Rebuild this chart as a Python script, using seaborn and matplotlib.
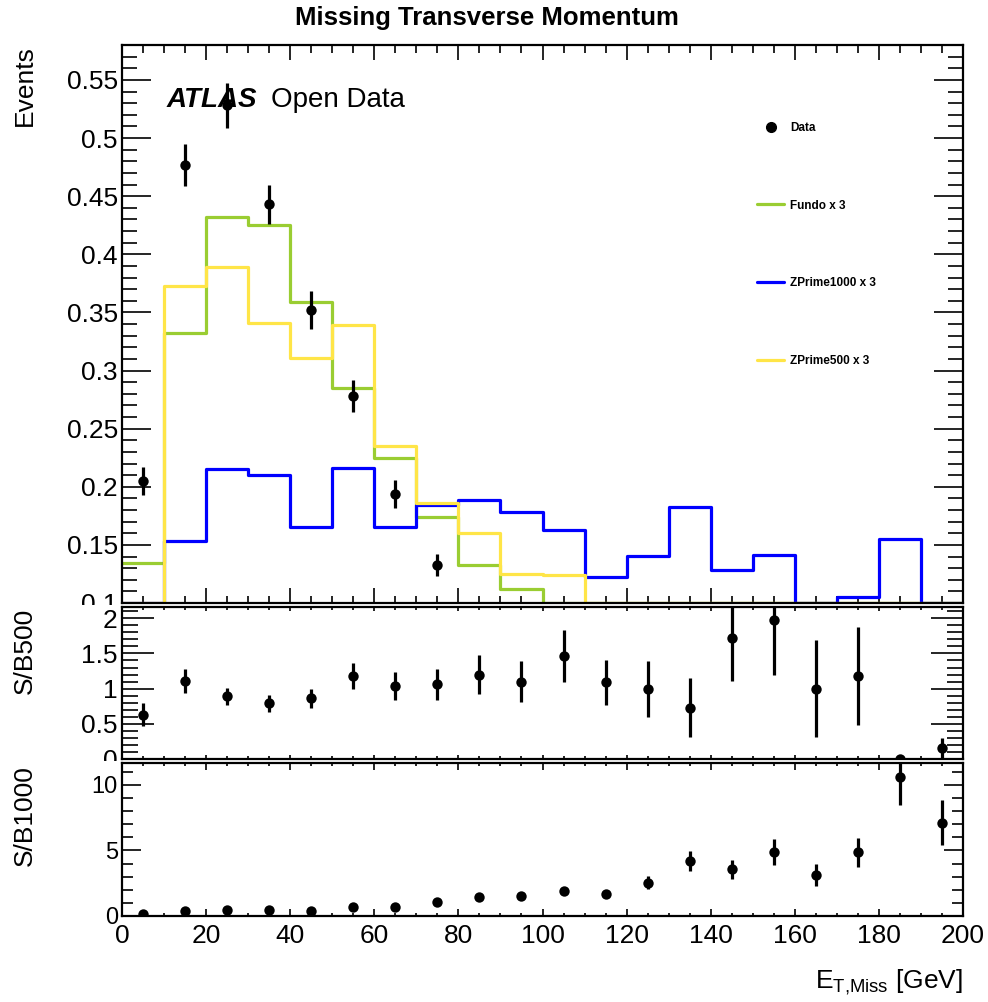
import numpy as np
import pandas as pd
import matplotlib
matplotlib.use("Agg")
import matplotlib.pyplot as plt
import seaborn as sns
from matplotlib.lines import Line2D
from matplotlib.patches import Rectangle
from matplotlib.ticker import MultipleLocator

# ---------------- data ----------------
bin_edges = list(range(0, 201, 10))
bin_centers = [e + 5 for e in bin_edges[:-1]]

fundo_x3 = [0.134, 0.332, 0.432, 0.425, 0.359, 0.285, 0.225, 0.174, 0.133, 0.112,
            0.100, 0.100, 0.100, 0.100, 0.100, 0.100, 0.100, 0.100, 0.100, 0.100]
zprime1000_x3 = [0.100, 0.153, 0.215, 0.210, 0.165, 0.216, 0.165, 0.184, 0.189, 0.178,
                 0.163, 0.122, 0.140, 0.183, 0.128, 0.141, 0.100, 0.105, 0.155, 0.100]
zprime500_x3 = [0.100, 0.373, 0.389, 0.341, 0.311, 0.339, 0.235, 0.186, 0.160, 0.125,
                0.124, 0.100, 0.100, 0.100, 0.100, 0.100, 0.100, 0.100, 0.100, 0.100]

data_x = [5, 15, 25, 35, 45, 55, 65, 75]
data_y = [0.205, 0.477, 0.528, 0.443, 0.352, 0.278, 0.194, 0.133]
data_err = [0.012, 0.018, 0.019, 0.017, 0.016, 0.014, 0.012, 0.0095]

sb500 = [0.63, 1.11, 0.89, 0.79, 0.86, 1.18, 1.04, 1.06, 1.20, 1.10,
         1.47, 1.09, 0.99, 0.73, 1.72, 1.97, 1.00, 1.18, 0.00, 0.15]
sb500_err = [0.16, 0.17, 0.12, 0.12, 0.13, 0.19, 0.20, 0.22, 0.28, 0.29,
             0.37, 0.32, 0.40, 0.42, 0.61, 0.77, 0.69, 0.69, 0.00, 0.15]

sb1000 = [0.15, 0.41, 0.44, 0.44, 0.41, 0.72, 0.69, 1.03, 1.41, 1.56,
          1.91, 1.68, 2.52, 4.18, 3.55, 4.90, 3.09, 4.85, 10.59, 7.12]
sb1000_err = [0.05, 0.10, 0.10, 0.10, 0.10, 0.15, 0.15, 0.20, 0.25, 0.25,
              0.30, 0.30, 0.50, 0.78, 0.71, 0.98, 0.84, 1.10, 2.12, 1.73]

labels = ["Data", "Fundo x 3", "ZPrime1000 x 3", "ZPrime500 x 3"]
c_green = "#9ACD32"
c_blue = "#0000FF"
c_yellow = "#FFE547"

# ---------------- style ----------------
sns.set_theme(style="ticks")
plt.rcParams['font.family'] = ['Liberation Sans', 'DejaVu Sans']
plt.rcParams['mathtext.fontset'] = 'custom'
plt.rcParams['mathtext.rm'] = 'Liberation Sans'
plt.rcParams['mathtext.it'] = 'Liberation Sans:italic'
plt.rcParams['axes.linewidth'] = 1.6
for k in ['text.color', 'axes.labelcolor', 'xtick.color', 'ytick.color',
          'xtick.labelcolor', 'ytick.labelcolor', 'axes.edgecolor']:
    plt.rcParams[k] = 'black'

fig = plt.figure(figsize=(9.88, 10.02), dpi=100)
W, H = 988.0, 1002.0
L, R = 122, 963

def add_ax(top, bottom, z):
    ax = fig.add_axes([L / W, 1 - bottom / H, (R - L) / W, (bottom - top) / H])
    ax.set_zorder(z)
    return ax

ax1 = add_ax(45, 603, 0)
ax2 = add_ax(607, 759, 1)
ax3 = add_ax(763, 916, 2)

# pad backgrounds (lower pads cover labels of the pad above, as in ROOT)
fig.patches.append(Rectangle((0, 1 - 761 / H), 1, (761 - 605) / H, transform=fig.transFigure,
                             facecolor='white', edgecolor='none', zorder=0.5))
fig.patches.append(Rectangle((0, 0), 1, 1 - 761 / H, transform=fig.transFigure,
                             facecolor='white', edgecolor='none', zorder=1.5))

hist_df = pd.DataFrame({"x": bin_centers, "fundo": fundo_x3,
                        "z1000": zprime1000_x3, "z500": zprime500_x3})

for col, c in [("fundo", c_green), ("z1000", c_blue), ("z500", c_yellow)]:
    sns.histplot(data=hist_df, x="x", weights=col, bins=bin_edges, element="step",
                 fill=False, color=c, linewidth=2.3, ax=ax1)

def draw_points(ax, x, y, e, ms=56):
    ax.errorbar(x, y, yerr=e, fmt='none', ecolor='black', elinewidth=2.3, capsize=0, zorder=4)
    sns.scatterplot(x=x, y=y, color='black', s=ms, edgecolor='black', linewidth=0, ax=ax, zorder=5)

draw_points(ax1, data_x, data_y, data_err)
draw_points(ax2, bin_centers, sb500, sb500_err)
draw_points(ax3, bin_centers, sb1000, sb1000_err)

ax1.set_ylim(0.1, 0.58)
ax2.set_ylim(0, 2.16)
ax3.set_ylim(0, 11.66)

for ax in (ax1, ax2, ax3):
    ax.set_xlim(0, 200)
    ax.set_xlabel("")
    ax.set_ylabel("")
    ax.xaxis.set_major_locator(MultipleLocator(20))
    ax.xaxis.set_minor_locator(MultipleLocator(5))
    for s in ax.spines.values():
        s.set_visible(True)
        s.set_linewidth(1.6)
        s.set_color('black')
        s.set_zorder(3)

ax1.yaxis.set_minor_locator(MultipleLocator(0.01))
ax2.yaxis.set_minor_locator(MultipleLocator(0.1))
ax3.yaxis.set_major_locator(MultipleLocator(5))
ax3.yaxis.set_minor_locator(MultipleLocator(1))

ax1.set_yticks([0.1, 0.15, 0.2, 0.25, 0.3, 0.35, 0.4, 0.45, 0.5, 0.55])
ax1.set_yticklabels(["0.1", "0.15", "0.2", "0.25", "0.3", "0.35", "0.4", "0.45", "0.5", "0.55"])
ax2.set_yticks([0, 0.5, 1, 1.5, 2])
ax2.set_yticklabels(["0", "0.5", "1", "1.5", "2"])

def ticks(ax, xmaj, xmin, ymaj, ymin, ysize, xlabels):
    ax.tick_params(axis='x', which='major', direction='in', length=xmaj, width=1.2,
                   top=True, bottom=True, labelbottom=xlabels, labelsize=19, pad=6)
    ax.tick_params(axis='x', which='minor', direction='in', length=xmin, width=1.2,
                   top=True, bottom=True)
    ax.tick_params(axis='y', which='major', direction='in', length=ymaj, width=1.2,
                   left=True, right=True, labelsize=ysize, pad=3)
    ax.tick_params(axis='y', which='minor', direction='in', length=ymin, width=1.2,
                   left=True, right=True)

ticks(ax1, 10.8, 5.4, 21, 10.5, 19, False)
ticks(ax2, 3.2, 2.0, 23, 11.5, 19, False)
ticks(ax3, 5.0, 2.5, 14, 8, 17, True)
ax3.set_xticks([0, 20, 40, 60, 80, 100, 120, 140, 160, 180, 200])
ax3.set_xticklabels(["0", "20", "40", "60", "80", "100", "120", "140", "160", "180", "200"])

# titles and labels
fig.text(487 / W, 1 - 18 / H, "Missing Transverse Momentum", ha='center', va='center',
         fontsize=18.5, fontweight='bold', zorder=5)
fig.text(25 / W, 1 - 45 / H, "Events", rotation=90, ha='center', va='top', fontsize=19, zorder=5)
fig.text(25 / W, 1 - 608 / H, "S/B500", rotation=90, ha='center', va='top', fontsize=19, zorder=5)
fig.text(25 / W, 1 - 765 / H, "S/B1000", rotation=90, ha='center', va='top', fontsize=19, zorder=5)
fig.text(963 / W, 1 - 982 / H, r"E$_{\mathrm{T{,}Miss}}$ [GeV]", ha='right', va='center',
         fontsize=19, zorder=5)

ax1.text(0.0532, 0.8894, "ATLAS", transform=ax1.transAxes, fontsize=20,
         fontweight='bold', fontstyle='italic', va='baseline', ha='left')
ax1.text(0.1768, 0.8894, "Open Data", transform=ax1.transAxes, fontsize=20,
         va='baseline', ha='left')

handles = [Line2D([], [], marker='o', color='black', ls='none', ms=7),
           Line2D([], [], color=c_green, lw=2.3),
           Line2D([], [], color=c_blue, lw=2.3),
           Line2D([], [], color=c_yellow, lw=2.3)]
ax1.legend(handles, labels, loc='upper left', bbox_to_anchor=(0.7547, 0.8625),
           frameon=False, prop={'weight': 'bold', 'size': 8.5}, handlelength=2.35,
           handletextpad=0.5, labelspacing=5.58, borderaxespad=0, borderpad=0)

fig.savefig("out.png", dpi=100)
